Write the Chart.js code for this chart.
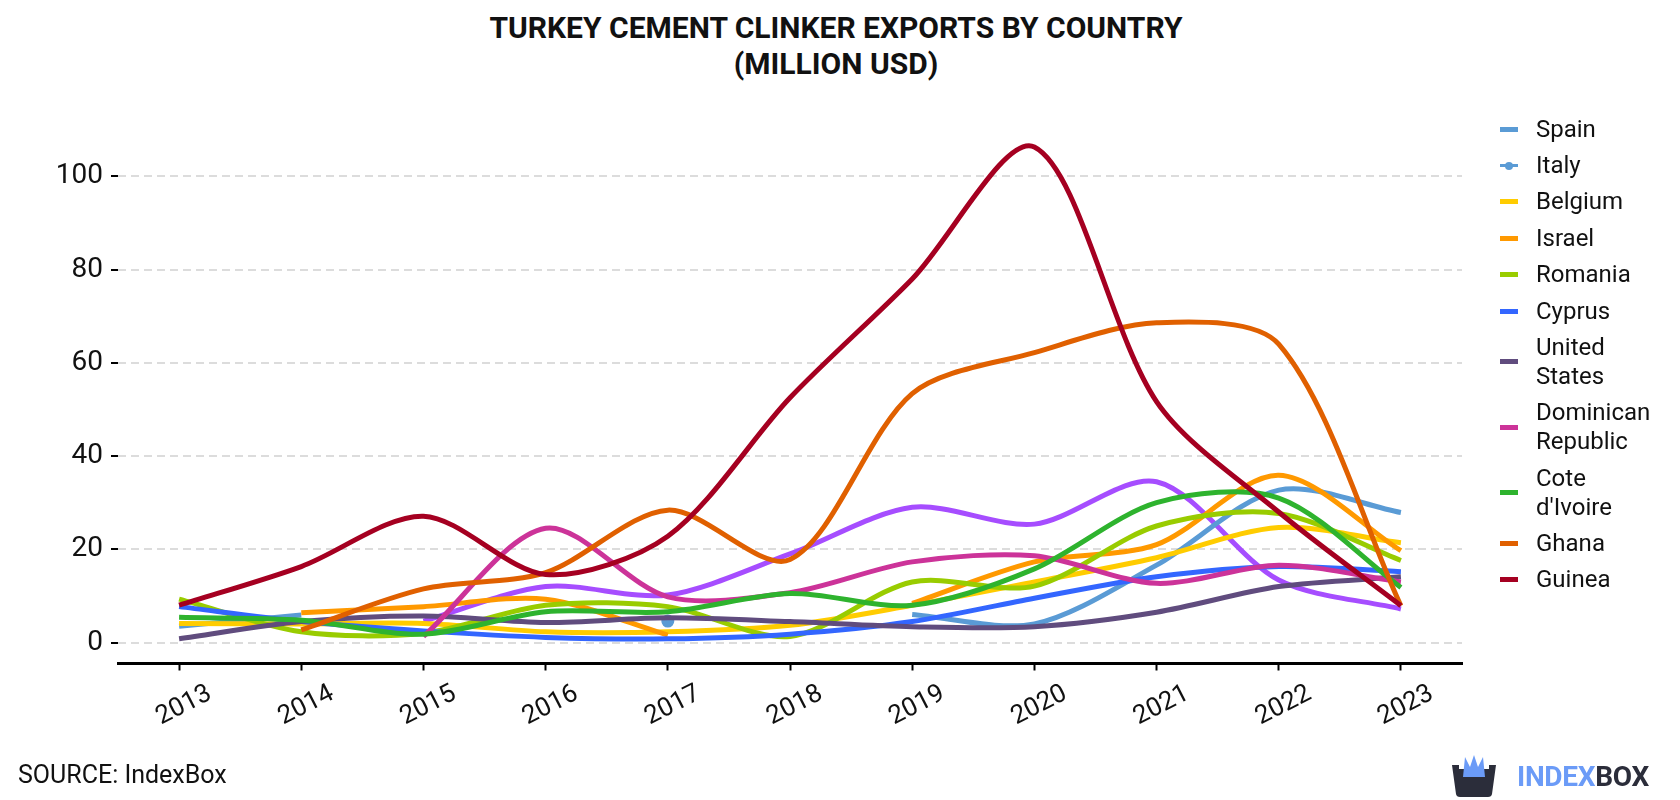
<!DOCTYPE html>
<html>
<head>
<meta charset="utf-8">
<script src="https://cdn.jsdelivr.net/npm/chart.js"></script>
<style>
  html, body { margin: 0; padding: 0; background: #fff; }
  body { width: 1680px; height: 800px; position: relative; overflow: hidden; font-family: Roboto, sans-serif; color: #111; }
  #title { position: absolute; left: 0; top: 10px; width: 1672px; text-align: center; font-weight: bold; font-size: 30px; line-height: 36px; }
  #wrap { position: absolute; left: 0; top: 0; width: 1680px; height: 800px; }
  #legend { position: absolute; left: 1500px; top: 111px; }
  .item { display: flex; align-items: center; padding: 3.7px 0; }
  .mark { width: 18px; height: 5px; margin-right: 18px; position: relative; flex: none; }
  .mark.dot { height: 3px; }
  .mark.dot::after { content: ''; position: absolute; left: 5px; top: -2.5px; width: 8px; height: 8px; border-radius: 50%; background: inherit; }
  .txt { width: 125px; font-size: 24px; line-height: 29px; }
  #source { position: absolute; left: 18px; top: 760px; font-size: 25px; }
  #logo { position: absolute; left: 1450px; top: 755px; display: flex; align-items: center; }
  #logo span { font-weight: bold; font-size: 28px; letter-spacing: -0.3px; }
</style>
</head>
<body>
<div id="title">TURKEY CEMENT CLINKER EXPORTS BY COUNTRY<br>(MILLION USD)</div>
<div id="wrap"><canvas id="chart"></canvas></div>
<div id="legend"></div>
<div id="source">SOURCE: IndexBox</div>
<div id="logo">
  <svg width="48" height="42" viewBox="0 0 48 42">
    <path d="M2,10 L9,10 L9,14 L39,14 L39,10 L46,10 L42,39 Q41.5,42 38,42 L10,42 Q6.5,42 6,39 Z" fill="#2b2d3a"/>
    <path d="M13,22 L15,2 L20,12 L24,0 L28,12 L33,2 L35,22 Z" fill="#6b9bf7"/>
  </svg>
  <span style="margin-left:19px;color:#6b9bf7">INDEX</span><span style="color:#2b2d3a">BOX</span>
</div>
<script>
// values in million USD
var years = ['2013', '2014', '2015', '2016', '2017', '2018', '2019', '2020', '2021', '2022', '2023'];
var yTicks = [0, 20, 40, 60, 80, 100];

var spain        = [3.5, 5.9, null, null, null, null, 6.0, 4.0, 16.6, 32.7, 27.9];
var italy        = [null, null, null, null, 4.6, null, null, null, null, null, null];
var belgium      = [4.1, 4.0, 4.1, 2.3, 2.3, 3.7, 8.0, 13.0, 18.2, 24.7, 21.4];
var israel       = [null, 6.4, 7.7, 9.3, 1.6, null, 8.4, 17.3, 21.0, 35.9, 19.7];
var romania      = [9.3, 2.3, 2.0, 8.0, 7.7, 1.3, 13.0, 12.1, 25.0, 27.7, 17.6];
var cyprus       = [7.7, 4.5, 2.5, 1.1, 0.8, 1.8, 4.5, 9.5, 14.1, 16.3, 15.2];
var unitedStates = [0.8, 4.5, 5.7, 4.3, 5.3, 4.5, 3.4, 3.4, 6.5, 12.0, 14.1];
var dominican    = [null, null, 1.3, 24.5, 9.8, 10.7, 17.3, 18.6, 12.7, 16.6, 13.0];
var coteDIvoire  = [5.4, 4.8, 1.8, 6.6, 6.6, 10.5, 8.0, 15.8, 30.0, 31.0, 11.8];
var ghana        = [null, 2.7, 11.5, 15.0, 28.4, 17.8, 53.4, 62.2, 68.6, 64.0, 7.9];
var guinea       = [8.0, 16.3, 27.1, 14.6, 22.8, 52.5, 78.0, 106.3, 51.7, 28.0, 7.9];
// a twelfth series is drawn but falls outside the visible legend
var unlisted     = [null, null, 4.6, 12.0, 10.2, 19.0, 29.0, 25.4, 34.5, 13.4, 7.2];

var series = [
    { name: 'Spain', data: spain, color: '#5a9bd5' },
    { name: 'Italy', data: italy, color: '#5a9bd5', dots: true },
    { name: 'Belgium', data: belgium, color: '#ffcc00' },
    { name: 'Israel', data: israel, color: '#ff9900' },
    { name: 'Romania', data: romania, color: '#99cc00' },
    { name: 'Cyprus', data: cyprus, color: '#3366ff' },
    { name: 'United States', data: unitedStates, color: '#604c7e' },
    { name: 'Dominican Republic', data: dominican, color: '#cc3399' },
    { name: "Cote d'Ivoire", data: coteDIvoire, color: '#2eb32e' },
    { name: 'Ghana', data: ghana, color: '#e06000' },
    { name: 'Guinea', data: guinea, color: '#a50021' },
    { name: 'Other', data: unlisted, color: '#a64dff', hidden: true }
];

// html legend
var legend = document.getElementById('legend');
series.forEach(function(s) {
    if (s.hidden) return;
    var row = document.createElement('div');
    row.className = 'item';
    row.innerHTML = '<div class="mark' + (s.dots ? ' dot' : '') + '" style="background:' + s.color + '"></div>' +
        '<div class="txt">' + s.name + '</div>';
    legend.appendChild(row);
});

var datasets = series.map(function(s, i) {
    return {
        label: s.name,
        data: s.data,
        borderColor: s.color,
        backgroundColor: s.color,
        borderWidth: 5,
        tension: 0.3,
        fill: false,
        pointRadius: s.dots ? 4 : 0,
        pointHoverRadius: 0,
        order: s.hidden ? 0 : -i
    };
});

new Chart(document.getElementById('chart'), {
    type: 'line',
    data: { labels: years, datasets: datasets },
    options: {
        responsive: true,
        maintainAspectRatio: false,
        animation: false,
        events: [],
        layout: { padding: { top: 120, right: 218, left: 0, bottom: 0 } },
        plugins: { legend: { display: false }, title: { display: false }, tooltip: { enabled: false } },
        scales: {
            x: {
                offset: true,
                grid: { drawOnChartArea: false, drawTicks: true, tickLength: 7, tickWidth: 2, tickColor: '#000' },
                border: { display: true, color: '#000', width: 3 },
                ticks: {
                    color: '#111',
                    font: { family: 'Roboto', size: 26 },
                    minRotation: 27,
                    maxRotation: 27,
                    labelOffset: 31,
                    padding: 8
                },
                afterFit: function(scale) { scale.height = 136.5; }
            },
            y: {
                min: -4.5,
                max: 112.1,
                afterBuildTicks: function(scale) {
                    scale.ticks = yTicks.map(function(v) { return { value: v }; });
                },
                grid: { color: '#dcdcdc', lineWidth: 2, tickLength: 7, tickWidth: 2, tickColor: '#000', tickBorderDash: [] },
                border: { display: false, dash: [8, 5] },
                ticks: { color: '#111', font: { family: 'Roboto', size: 28 }, padding: 8 },
                afterFit: function(scale) { scale.width = 118; }
            }
        }
    }
});
</script>
</body>
</html>
